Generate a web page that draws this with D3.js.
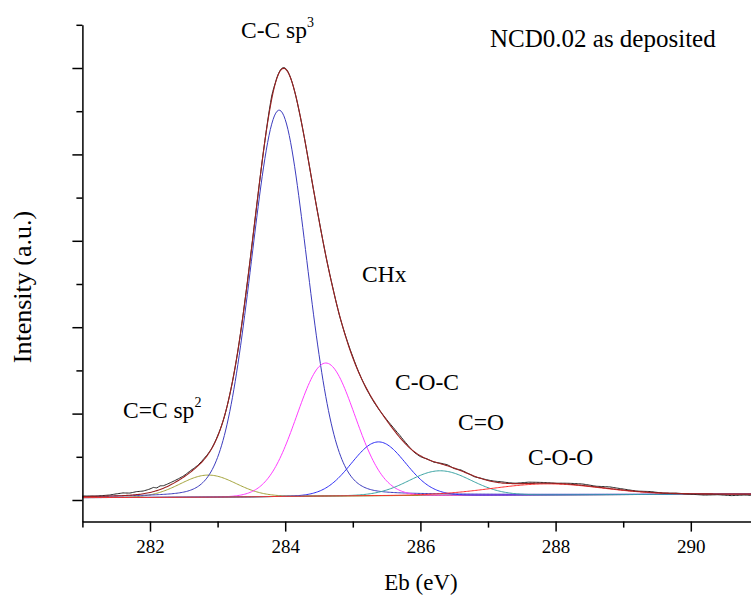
<!DOCTYPE html>
<html>
<head>
<meta charset="utf-8">
<script src="https://cdn.jsdelivr.net/npm/d3@7/dist/d3.min.js"></script>
<style>
  html, body { margin: 0; padding: 0; background: #fff; }
  svg { display: block; }
</style>
</head>
<body>
<svg id="chart" width="751" height="599"></svg>
<script>
// ---------------- data ----------------
// fitted components: name, centre (eV), height above background (a.u.), FWHM (eV), Lorentzian fraction
const peakNames   = ["C=C sp2", "C-C sp3", "CHx", "C-O-C", "C=O", "C-O-O"];
const peakCenters = [282.86, 283.91, 284.60, 285.38, 286.29, 287.87];
const peakHeights = [0.255, 4.471, 1.539, 0.622, 0.284, 0.127];
const peakFWHM    = [0.975, 0.975, 1.01, 0.94, 1.08, 1.91];
const peakLorentz = [0, 0.1, 0, 0, 0, 0];
const peakColors  = ["#a3a33a", "#3c3cbe", "#ff3cff", "#2e2ef5", "#3aa3a3", "#ff2a2a"];

// Shirley-type background (eV, a.u.)
const bgEnergy = [281, 282, 283, 283.5, 284, 284.5, 285, 286, 287, 288, 290, 292];
const bgValue  = [0.028, 0.030, 0.034, 0.037, 0.042, 0.046, 0.049, 0.053, 0.057, 0.060, 0.066, 0.069];

// measured spectrum, given as deviation from the fit envelope (eV, a.u.)
const rawEnergy = [281.0, 281.2, 281.4, 281.5, 281.6, 281.7, 281.8, 281.9, 282.0, 282.05, 282.1, 282.15, 282.2, 282.3, 282.4, 282.5, 282.6, 282.7, 282.8, 282.9, 283.0, 283.1, 283.2, 283.3, 283.4, 283.5, 283.6, 283.7, 283.75, 283.8, 283.85, 283.9, 284.0, 284.1, 284.2, 284.3, 284.4, 284.5, 284.6, 284.7, 284.8, 284.9, 285.0, 285.1, 285.2, 285.3, 285.4, 285.5, 285.6, 285.7, 285.8, 285.9, 286.0, 286.1, 286.2, 286.3, 286.4, 286.5, 286.6, 286.7, 286.8, 286.9, 287.0, 287.2, 287.4, 287.6, 287.8, 288.0, 288.2, 288.4, 288.6, 288.8, 289.0, 289.2, 289.4, 289.6, 289.8, 290.0, 290.2, 290.4, 290.6, 290.8, 291.0, 291.2, 291.4, 291.6, 291.8, 292.0];
const rawResidual = [0.006, 0.003, 0.012, 0.023, 0.031, 0.025, 0.035, 0.032, 0.041, 0.049, 0.032, 0.042, 0.029, 0.027, 0.021, 0.014, 0.017, 0.009, 0.012, 0.003, 0.006, -0.003, 0.002, -0.006, 0.006, 0, -0.006, 0.003, 0.017, 0.035, 0.006, 0.006, 0.009, 0, -0.005, 0.003, -0.003, 0.006, 0, 0.007, -0.006, 0.007, 0.012, 0.002, -0.006, -0.009, -0.003, 0.009, 0.021, 0.025, 0.014, -0.006, -0.009, 0.003, -0.006, 0.006, 0.012, -0.005, 0.009, 0.002, -0.007, 0.003, 0.006, 0.014, 0.005, 0.015, 0.009, 0.002, 0.010, 0.016, 0.008, 0.019, 0.012, 0.003, 0.009, -0.002, 0.003, -0.006, -0.014, -0.009, -0.019, -0.012, -0.021, -0.014, -0.017, -0.009, -0.016, -0.012];

// axis ticks
const xMajorTicks = [282, 284, 286, 288, 290];
const xMinorTicks = [281, 283, 285, 287, 289, 291];
const yMajorTicks = [0, 1, 2, 3, 4, 5];
const yMinorTicks = [0.5, 1.5, 2.5, 3.5, 4.5, 5.5];

const xLabel = "Eb (eV)";
const yLabel = "Intensity (a.u.)";
const title  = "NCD0.02 as deposited";

// ---------------- drawing ----------------
const FONT = "Liberation Serif";
const svg = d3.select("#chart");
const x = d3.scaleLinear().domain([281, 292]).range([82.4, 826]);
const y = d3.scaleLinear().domain([-0.25, 5.5]).range([521.6, 24.8]);
const bg = d3.scaleLinear().domain(bgEnergy).range(bgValue);

function peak(i, e) {
  const d = (e - peakCenters[i]) / peakFWHM[i];
  const g = Math.exp(-4 * Math.LN2 * d * d);
  const l = 1 / (1 + 4 * d * d);
  return peakHeights[i] * ((1 - peakLorentz[i]) * g + peakLorentz[i] * l);
}
function envelope(e) {
  let s = bg(e);
  for (let i = 0; i < peakCenters.length; i++) s += peak(i, e);
  return s;
}

const grid = d3.range(281, 292.0001, 0.02);
const line = d3.line().x(d => x(d[0])).y(d => y(d[1]));

const plot = svg.append("g");

// background
plot.append("path")
  .attr("d", line(bgEnergy.map((e, i) => [e, bgValue[i]])))
  .attr("fill", "none").attr("stroke", "#2a9a2a").attr("stroke-width", 1);

// components
peakCenters.forEach((c, i) => {
  plot.append("path")
    .attr("d", line(grid.map(e => [e, bg(e) + peak(i, e)])))
    .attr("fill", "none").attr("stroke", peakColors[i]).attr("stroke-width", 1);
});

// measured spectrum
const rawPts = [];
for (let k = 0; k < rawEnergy.length - 1; k++) {
  const e0 = rawEnergy[k], e1 = rawEnergy[k + 1];
  const rs = d3.scaleLinear().domain([e0, e1]).range([rawResidual[k], rawResidual[k + 1]]);
  const n = Math.max(1, Math.round((e1 - e0) / 0.02));
  for (let j = 0; j < n; j++) {
    const e = e0 + (e1 - e0) * j / n;
    rawPts.push([e, envelope(e) + rs(e)]);
  }
}
rawPts.push([292, envelope(292) + rawResidual[rawResidual.length - 1]]);
plot.append("path")
  .attr("d", line(rawPts))
  .attr("fill", "none").attr("stroke", "#262626").attr("stroke-width", 1);

// envelope
plot.append("path")
  .attr("d", line(grid.map(e => [e, envelope(e)])))
  .attr("fill", "none").attr("stroke", "#9a2222").attr("stroke-width", 1.1);

// axes
const axStroke = 1.5;
const xAxisY = y(-0.25);
const gxMaj = svg.append("g").attr("transform", `translate(0,${xAxisY})`)
  .call(d3.axisBottom(x).tickValues(xMajorTicks).tickSize(10).tickSizeOuter(0).tickPadding(8).tickFormat(d3.format("d")));
const gxMin = svg.append("g").attr("transform", `translate(0,${xAxisY})`)
  .call(d3.axisBottom(x).tickValues(xMinorTicks).tickSize(6).tickSizeOuter(0).tickFormat(""));
gxMin.select(".domain").remove();

const yAxisX = x(281);
const gyMaj = svg.append("g").attr("transform", `translate(${yAxisX},0)`)
  .call(d3.axisLeft(y).tickValues(yMajorTicks).tickSize(10).tickSizeOuter(0).tickFormat(""));
const gyMin = svg.append("g").attr("transform", `translate(${yAxisX},0)`)
  .call(d3.axisLeft(y).tickValues(yMinorTicks).tickSize(6).tickSizeOuter(0).tickFormat(""));
gyMin.select(".domain").remove();

svg.selectAll(".domain, .tick line").attr("stroke", "#000").attr("stroke-width", axStroke);
gxMaj.selectAll(".tick text")
  .style("font-family", FONT).style("font-size", "19px").attr("fill", "#000");

// axis titles
svg.append("text").attr("x", 421).attr("y", 590).attr("text-anchor", "middle")
  .style("font-family", FONT).style("font-size", "23px").text(xLabel);
svg.append("text").attr("transform", "translate(31,287) rotate(-90)").attr("text-anchor", "middle")
  .style("font-family", FONT).style("font-size", "26px").text(yLabel);

// title
svg.append("text").attr("x", 490).attr("y", 47)
  .style("font-family", FONT).style("font-size", "25px").text(title);

// peak labels
function label(px, py, main, sup) {
  const t = svg.append("text").attr("x", px).attr("y", py)
    .style("font-family", FONT).style("font-size", "23.5px");
  t.append("tspan").text(main);
  if (sup) t.append("tspan").attr("dy", -11).style("font-size", "14px").text(sup);
}
label(241, 38, "C-C sp", "3");
label(362, 282, "CHx");
label(395, 390, "C-O-C");
label(458, 430, "C=O");
label(528, 465, "C-O-O");
label(123, 418, "C=C sp", "2");
</script>
</body>
</html>
